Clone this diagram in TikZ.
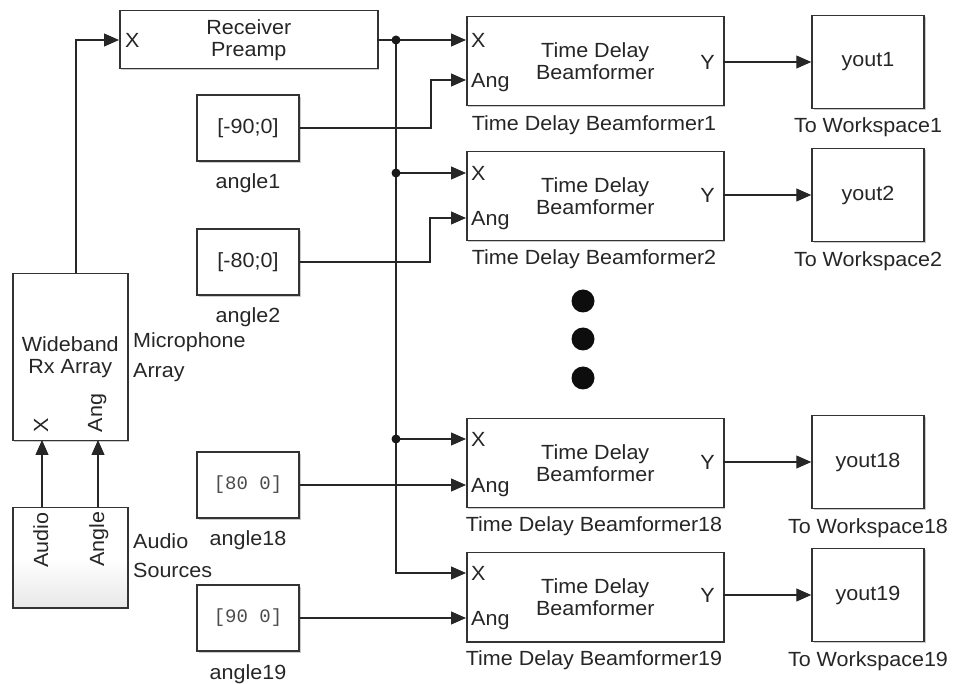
\documentclass[tikz,border=0pt]{standalone}
\usepackage{fontspec}
\setmainfont[FakeStretch=1.05]{Liberation Sans}
\newfontfamily\monof{Liberation Mono}
\usetikzlibrary{arrows.meta,shadows}
\begin{document}
\begin{tikzpicture}[x=1pt,y=-1pt,
  every node/.style={font=\fontsize{20.5}{22}\selectfont, text=black!85, inner sep=0pt},
  blk/.style={draw=black!80, line width=1.5pt, fill=white, anchor=north west, align=center,
    drop shadow={shadow xshift=1.6pt, shadow yshift=-1.6pt, opacity=0.35, fill=black!60}},
  conn/.style={draw=black!85, line width=1.2pt},
  arr/.style={conn, -{Triangle[length=15pt,width=13pt]}},
  jdot/.style={fill=black!90},
  port/.style={anchor=base west},
  lbl/.style={anchor=base},
  mono/.style={font=\monof\fontsize{19}{22}\selectfont, text=black!70}]
\useasboundingbox (0,0) rectangle (954,684);

% ---------- blocks ----------
\node[blk, minimum width=258pt, minimum height=58pt] (rp) at (119,10) {Receiver\\Preamp};
\node[blk, minimum width=115pt, minimum height=167pt] (wb) at (12,273) {Wideband\\Rx Array};
\node[blk, minimum width=115pt, minimum height=100pt, top color=white, bottom color=black!9, middle color=white] (as) at (12,507) {};

\node[blk, minimum width=102pt, minimum height=66pt, anchor=center] (a1) at (248,128) {[-90;0]};
\node[blk, minimum width=102pt, minimum height=66pt, anchor=center] (a2) at (248,262) {[-80;0]};
\node[blk, minimum width=102pt, minimum height=66pt, anchor=center, mono] (a18) at (248,485) {[80 0]};
\node[blk, minimum width=102pt, minimum height=66pt, anchor=center, mono] (a19) at (248,618) {[90 0]};

\node[blk, minimum width=257pt, minimum height=89pt] (t1) at (466,16) {Time Delay\\Beamformer};
\node[blk, minimum width=257pt, minimum height=89pt] (t2) at (466,151) {Time Delay\\Beamformer};
\node[blk, minimum width=257pt, minimum height=89pt] (t18) at (466,418) {Time Delay\\Beamformer};
\node[blk, minimum width=257pt, minimum height=89pt] (t19) at (466,552) {Time Delay\\Beamformer};

\node[blk, minimum width=112pt, minimum height=93pt, anchor=center] (y1) at (868,62) {yout1};
\node[blk, minimum width=112pt, minimum height=93pt, anchor=center] (y2) at (868,195) {yout2};
\node[blk, minimum width=112pt, minimum height=93pt, anchor=center] (y18) at (868,462) {yout18};
\node[blk, minimum width=112pt, minimum height=93pt, anchor=center] (y19) at (868,595) {yout19};

% ---------- port labels ----------
\node[port] (rpX) at (125,47.5) {X};
\node[anchor=base, rotate=90] (wbX) at (48,425) {X};
\node[anchor=base, rotate=90] (wbAng) at (102,413) {Ang};
\node[anchor=base, rotate=90] (asAu) at (48,540) {Audio};
\node[anchor=base, rotate=90] (asAn) at (104,539) {Angle};

\node[port] (t1X) at (471,47.5) {X};
\node[port] (t1A) at (471,87.5) {Ang};
\node[anchor=base east] (t1Y) at (715,69.5) {Y};
\node[port] (t2X) at (471,180.5) {X};
\node[port] (t2A) at (471,225.5) {Ang};
\node[anchor=base east] (t2Y) at (715,202.5) {Y};
\node[port] (t18X) at (471,446.5) {X};
\node[port] (t18A) at (471,492.5) {Ang};
\node[anchor=base east] (t18Y) at (715,469.5) {Y};
\node[port] (t19X) at (471,580.5) {X};
\node[port] (t19A) at (471,625.5) {Ang};
\node[anchor=base east] (t19Y) at (715,602.5) {Y};

% ---------- block names ----------
\node[anchor=base west] (micA) at (133,347.5) {Microphone};
\node[anchor=base west] (micB) at (133,377.5) {Array};
\node[anchor=base west] (srcA) at (133,548.5) {Audio};
\node[anchor=base west] (srcB) at (133,577) {Sources};

\node[lbl] (la1) at (248,189) {angle1};
\node[lbl] (la2) at (248,323) {angle2};
\node[lbl] (la18) at (248,546) {angle18};
\node[lbl] (la19) at (248,679) {angle19};

\node[lbl] (lt1) at (594,130.5) {Time Delay Beamformer1};
\node[lbl] (lt2) at (594,264.5) {Time Delay Beamformer2};
\node[lbl] (lt18) at (594,531.5) {Time Delay Beamformer18};
\node[lbl] (lt19) at (594,665.5) {Time Delay Beamformer19};

\node[lbl] (ly1) at (868,132.5) {To Workspace1};
\node[lbl] (ly2) at (868,266.5) {To Workspace2};
\node[lbl] (ly18) at (868,533.5) {To Workspace18};
\node[lbl] (ly19) at (868,666.5) {To Workspace19};

% ---------- port coordinates ----------
\coordinate (wbout) at (76,273);
\coordinate (rpin) at (119,40);
\coordinate (rpout) at (377,40);
\coordinate (asAuOut) at (42,507);
\coordinate (asAnOut) at (98,507);
\coordinate (wbXin) at (42,440);
\coordinate (wbAin) at (98,440);
\coordinate (j1) at (396,40);
\coordinate (j2) at (396,173);
\coordinate (j18) at (396,439);
\coordinate (in1x) at (466,40);
\coordinate (in2x) at (466,173);
\coordinate (in18x) at (466,439);
\coordinate (in19x) at (466,573);
\coordinate (in1a) at (466,80);
\coordinate (in2a) at (466,218);
\coordinate (in18a) at (466,485);
\coordinate (in19a) at (466,618);
\coordinate (bend1) at (431,128);
\coordinate (bend2) at (430,262);
\coordinate (out1) at (723,62);
\coordinate (out2) at (723,195);
\coordinate (out18) at (723,462);
\coordinate (out19) at (723,595);

% ---------- connectors ----------
\draw[arr] (asAuOut) -- (wbXin);
\draw[arr] (asAnOut) -- (wbAin);
\draw[arr] (wbout) |- (rpin);
\draw[arr] (rpout) -- (in1x);
\draw[arr] (j1) |- (in19x);
\draw[arr] (j2) -- (in2x);
\draw[arr] (j18) -- (in18x);
\fill[jdot] (j1) circle (4.5pt);
\fill[jdot] (j2) circle (4.5pt);
\fill[jdot] (j18) circle (4.5pt);

\draw[arr] (a1.east) -- (bend1) |- (in1a);
\draw[arr] (a2.east) -- (bend2) |- (in2a);
\draw[arr] (a18.east) -- (in18a);
\draw[arr] (a19.east) -- (in19a);

\draw[arr] (out1) -- (y1.west);
\draw[arr] (out2) -- (y2.west);
\draw[arr] (out18) -- (y18.west);
\draw[arr] (out19) -- (y19.west);

% ---------- ellipsis dots ----------
\fill[black!95] (583,301) circle (11.5pt);
\fill[black!95] (583,339) circle (11.5pt);
\fill[black!95] (583,378) circle (11.5pt);
\end{tikzpicture}
\end{document}
